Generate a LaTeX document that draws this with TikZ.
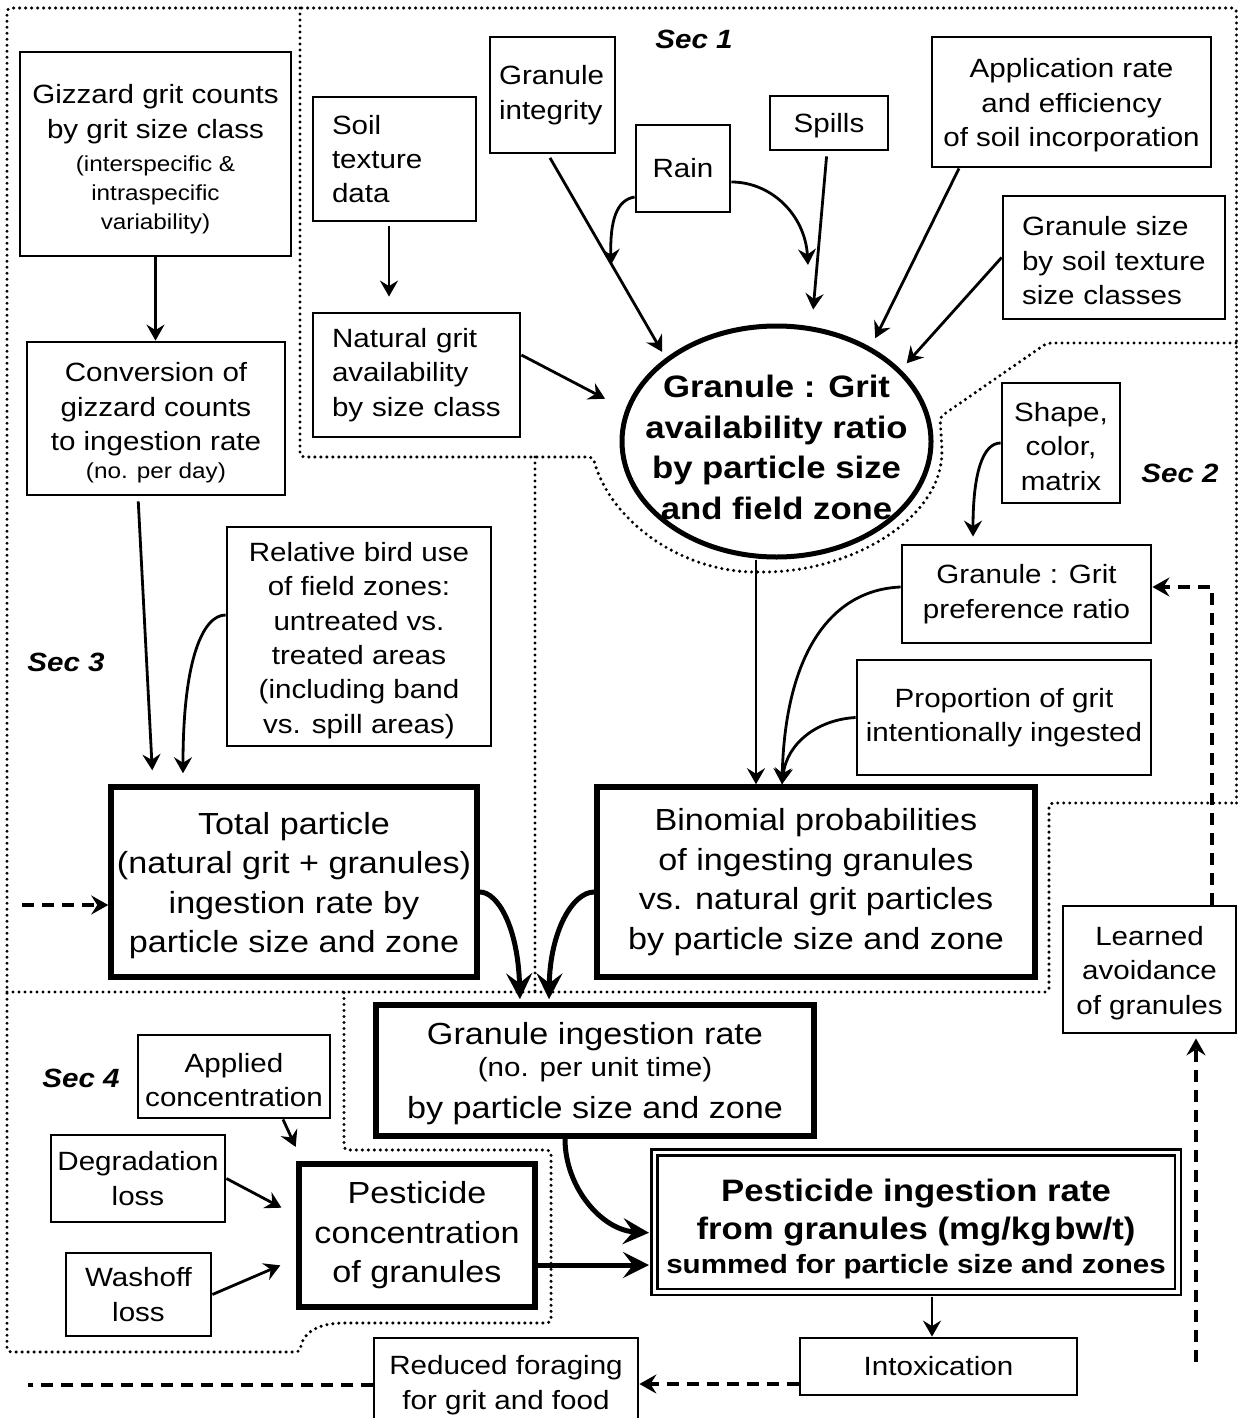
\documentclass[tikz,border=0pt]{standalone}
\usepackage{fontspec}
\setmainfont{Liberation Sans}[FakeStretch=1.12]
\usetikzlibrary{arrows.meta,shapes.geometric}

\newcommand\regsize{\fontsize{26.4pt}{34.4pt}\selectfont}
\newcommand\bigsize{\fontsize{30.5pt}{39.5pt}\selectfont}
\newcommand\smallsize{\fontsize{21.7pt}{29pt}\selectfont}
\newcommand\ovalsize{\fontsize{31pt}{40.5pt}\selectfont\bfseries}
\newcommand\ratesize{\fontsize{31pt}{38.3pt}\selectfont\bfseries}

\begin{document}
\begin{tikzpicture}[x=1pt,y=-1pt,
  box/.style={draw, line width=2.8pt, inner sep=0pt, align=center, font=\regsize},
  thickbox/.style={draw, line width=5.5pt, inner sep=0pt, align=center, font=\bigsize},
  region/.style={line width=3.4pt, dash pattern=on 0pt off 6pt, line cap=round},
  link/.style={line width=2.8pt, -{Stealth[length=16pt,width=18pt,inset=5.5pt]}},
  heavy/.style={line width=5pt, -{Stealth[length=26pt,width=26pt,inset=10pt]}},
  feedback/.style={line width=3.5pt, dash pattern=on 12pt off 8pt},
  fbtip/.style={-{Stealth[length=17pt,width=19pt,inset=6pt]}},
  seclabel/.style={font=\fontsize{26.4pt}{30pt}\selectfont\bfseries\itshape, inner sep=0pt},
]
\useasboundingbox (0,0) rectangle (1238,1418);
\clip (0,0) rectangle (1238,1418);

% ---------- section outlines ----------
\draw[region, rounded corners=4pt] (1236.5,803) -- (1236.5,8) -- (7,8) -- (7,1352) -- (300,1352)
  .. controls (302,1335) and (315,1323) .. (348,1323) -- (551,1323) -- (551,1150) -- (344,1150) -- (344,992);
\draw[region, rounded corners=4pt] (7,992) -- (1049,992) -- (1049,803) -- (1236.5,803);
\draw[region, rounded corners=4pt] (300,8) -- (300,457) -- (593,457)
  .. controls (610,520) and (680,572) .. (760,572)
  .. controls (850,572) and (940,520) .. (942,450) -- (940,417) -- (1047,343) -- (1236.5,343);
\draw[region] (535,457) -- (535,992);

% ---------- section labels ----------
\node[seclabel] (sec1) at (694,39) {Sec 1};
\node[seclabel] (sec2) at (1180,473) {Sec 2};
\node[seclabel] (sec3) at (66,662) {Sec 3};
\node[seclabel] (sec4) at (81,1078) {Sec 4};

% ---------- boxes ----------
\node[box, minimum width=271pt, minimum height=204pt] (gizzard) at (155.5,154)
  {\rule{0pt}{30pt}Gizzard grit counts\\by grit size class\\[-1pt]{\smallsize (interspecific \&}\\[-5.4pt]{\smallsize intraspecific}\\[-5.4pt]{\smallsize variability)}};
\node[box, minimum width=258pt, minimum height=153pt] (conversion) at (156,418.5)
  {\rule{0pt}{28pt}Conversion of\\gizzard counts\\to ingestion rate\\[-6pt]{\smallsize (no. per day)}};
\node[box, align=left, text width=125pt, inner xsep=19pt, minimum width=163pt, minimum height=124pt] (soil) at (394.5,159)
  {Soil\\texture\\data};
\node[box, align=left, text width=169pt, inner xsep=19pt, minimum width=207pt, minimum height=124pt] (natgrit) at (416.5,375)
  {Natural grit\\availability\\by size class};
\node[box, align=left, text width=107pt, inner xsep=9pt, minimum width=125pt, minimum height=116pt] (integrity) at (552.5,95)
  {Granule\\integrity};
\node[box, minimum width=94pt, minimum height=87pt] (rain) at (683,168.5) {Rain};
\node[box, minimum width=118pt, minimum height=54pt] (spills) at (829,123) {\rule{0pt}{24pt}Spills};
\node[box, minimum width=279pt, minimum height=130pt] (apprate) at (1071.5,102)
  {\rule{0pt}{26pt}Application rate\\and efficiency\\of soil incorporation};
\node[box, align=left, text width=184pt, inner xsep=19pt, minimum width=222pt, minimum height=123pt] (gransize) at (1114,257.5)
  {\rule{0pt}{26pt}Granule size\\by soil texture\\size classes};

\node[draw, ellipse, line width=5pt, inner sep=0pt, minimum width=309pt, minimum height=231pt] (ratio) at (776.5,441.5) {};
\node[font=\ovalsize, align=center, inner sep=0pt] (ratiotext) at (776.5,447.5)
  {Granule : Grit\\availability ratio\\by particle size\\and field zone};

\node[box, minimum width=118pt, minimum height=120pt] (shape) at (1061,443) {\rule{0pt}{26pt}Shape,\\color,\\matrix};
\node[box, minimum width=249pt, minimum height=98pt] (pref) at (1026.5,594) {Granule : Grit\\preference ratio};
\node[box, minimum width=294pt, minimum height=115pt] (propor) at (1004,717.5) {Proportion of grit\\intentionally ingested};
\node[box, minimum width=264pt, minimum height=219pt] (relbird) at (359,636.5)
  {\rule{0pt}{27pt}Relative bird use\\of field zones:\\untreated vs.\\treated areas\\(including band\\vs. spill areas)};

\node[thickbox, minimum width=366pt, minimum height=190pt] (total) at (294,882)
  {\rule{0pt}{29pt}Total particle\\(natural grit + granules)\\ingestion rate by\\particle size and zone};
\node[thickbox, minimum width=438pt, minimum height=190pt] (binom) at (816,882)
  {Binomial probabilities\\of ingesting granules\\vs. natural grit particles\\by particle size and zone};
\node[thickbox, minimum width=438pt, minimum height=131pt] (graning) at (595,1070.5)
  {\rule{0pt}{29pt}Granule ingestion rate\\[-7.5pt]{\regsize (no. per unit time)}\\[2.5pt]by particle size and zone};
\node[thickbox, minimum width=236pt, minimum height=143pt] (pestconc) at (417,1235.5)
  {Pesticide\\concentration\\of granules};
\node[draw, double, line width=2.5pt, double distance=3.5pt, inner sep=0pt, align=center, font=\ratesize,
      minimum width=523.5pt, minimum height=139.5pt] (pestrate) at (916,1222)
  {\rule{0pt}{36pt}Pesticide ingestion rate\\from granules (mg/kg\hspace{3pt}bw/t)\\[-5pt]{\fontsize{26.4pt}{30pt}\selectfont summed for particle size and zones}};

\node[box, minimum width=277pt, minimum height=57pt] (intox) at (938.5,1366.5) {Intoxication};
\node[box, minimum width=264pt, minimum height=94pt] (reduced) at (506,1385) {Reduced foraging\\for grit and food};
\node[box, minimum width=173pt, minimum height=127pt] (learned) at (1149.5,969.5) {\rule{0pt}{26pt}Learned\\avoidance\\of granules};
\node[box, minimum width=192pt, minimum height=83pt] (applied) at (234,1076.5) {\rule{0pt}{26pt}Applied\\concentration};
\node[box, minimum width=174pt, minimum height=87pt] (degrad) at (138,1178.5) {Degradation\\loss};
\node[box, minimum width=145pt, minimum height=83pt] (washoff) at (138.5,1294.5) {Washoff\\loss};

% ---------- free ends ----------
\coordinate (rainleft) at (611,265);
\coordinate (rainright) at (808,265);
\coordinate (dashin) at (22,905);
\coordinate (dashout) at (28,1385);
\coordinate (dashup) at (1196,1362);

% ---------- Sec 1 links ----------
\draw[link] (gizzard.south) -- (gizzard.south |- conversion.north);
\draw[link, shorten <=4pt, shorten >=15pt] ([xshift=-5.5pt]soil.south) -- ([xshift=-5.5pt]soil.south |- natgrit.north);
\draw[link, shorten >=23pt] ([yshift=20pt]natgrit.east) -- (ratio.168);
\draw[link, shorten <=4pt, shorten >=7pt] ([xshift=-4.5pt]integrity.south) -- (ratio.143);
\draw[link] ([yshift=-28.5pt]rain.west) .. controls +(-18,3) and +(-1,-45) .. (rainleft);
\draw[link] ([yshift=-13.5pt]rain.east) .. controls +(40,0) and +(-3,-50) .. (rainright);
\draw[link, shorten <=5pt, shorten >=17pt] ([xshift=-2pt]spills.south) -- (ratio.73);
\draw[link, shorten >=10pt] ([xshift=-112.5pt]apprate.south) -- (ratio.45);
\draw[link, shorten >=8.5pt] (gransize.west) -- (ratio.30);

% ---------- Sec 2 links ----------
\draw[link, shorten >=7pt] (shape.west) .. controls +(-18,0) and +(0,-70) .. ([xshift=-53.5pt]pref.north);
\draw[link] ([xshift=-60pt]binom.north |- ratio.south) -- ([xshift=-60pt]binom.north);
\draw[link] ([yshift=7pt]pref.west) .. controls +(-72,3) and +(3,-127) .. ([xshift=-34pt]binom.north);
\draw[link] (propor.west) .. controls +(-37,2) and +(5,-42) .. ([xshift=-34pt]binom.north);

% ---------- Sec 3 links ----------
\draw[link, shorten <=5pt, shorten >=14pt] ([xshift=-18pt]conversion.south) -- ([xshift=-141pt]total.north);
\draw[link, shorten >=11pt] ([yshift=21.5pt]relbird.west) .. controls +(-22,0) and +(0,-127) .. ([xshift=-111pt]total.north);
\draw[feedback, fbtip] (dashin) -- ([yshift=-23pt]total.west);

% ---------- merging into the granule ingestion rate ----------
\draw[heavy, shorten >=3pt] ([yshift=-10pt]total.east) .. controls +(18,0) and +(-2,-75) .. ([xshift=-75pt]graning.north);
\draw[heavy, shorten >=3pt] ([yshift=-10pt]binom.west) .. controls +(-22,0) and +(1,-70) .. ([xshift=-46pt]graning.north);
\draw[heavy, shorten >=4pt] ([xshift=-30pt]graning.south) .. controls +(0,49) and +(-51,-3) .. ([yshift=-11pt]pestrate.west);

% ---------- Sec 4 links ----------
\draw[heavy, shorten >=4pt] ([yshift=-29.5pt]pestconc.east) -- ([yshift=-29.5pt]pestconc.east -| pestrate.west);
\draw[link, shorten >=15.7pt] ([xshift=49pt]applied.south) -- ([xshift=6pt]pestconc.north west);
\draw[link, shorten >=16.7pt] (degrad.east) -- ([yshift=20pt]pestconc.west);
\draw[link, shorten >=17.3pt] (washoff.east) -- ([yshift=-23pt]pestconc.west);

% ---------- effects and feedback ----------
\draw[link, shorten <=3.5pt] ([xshift=16pt]pestrate.south) -- ([xshift=16pt]pestrate.south |- intox.north);
\draw[feedback, fbtip] ([yshift=-17.5pt]intox.west) -- ([yshift=-17.5pt]intox.west -| reduced.east);
\draw[feedback] (reduced.west) -- (dashout);
\draw[feedback, fbtip, shorten >=4pt] (dashup) -- (dashup |- learned.south);
\draw[feedback, fbtip] ([xshift=62.5pt]learned.north) |- ([yshift=7pt]pref.east);
\end{tikzpicture}
\end{document}
